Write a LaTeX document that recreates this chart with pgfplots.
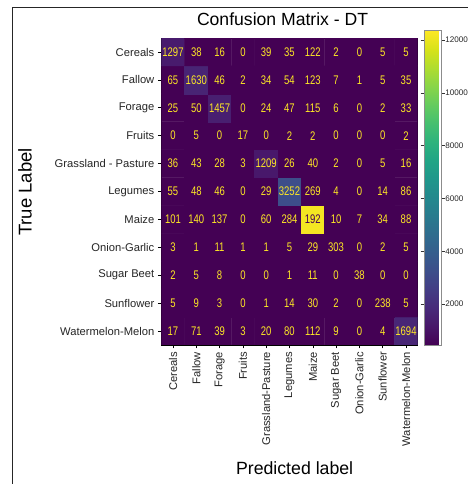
\documentclass[border=0pt]{standalone}
\usepackage{pgfplots}
\pgfplotsset{compat=1.18}
\usepackage{pgfplotstable}
\usepackage{fontspec}
\setmainfont{Liberation Sans}
\usepackage{graphicx}
\definecolor{vyel}{HTML}{FDE725}
\definecolor{vdark}{HTML}{440154}
% y = 0 is Watermelon-Melon (bottom row), y = 10 is Cereals (top row)
\pgfplotstableread{
x y c
0 0 17
1 0 71
2 0 39
3 0 3
4 0 20
5 0 80
6 0 112
7 0 9
8 0 0
9 0 4
10 0 1694
0 1 5
1 1 9
2 1 3
3 1 0
4 1 1
5 1 14
6 1 30
7 1 2
8 1 0
9 1 238
10 1 5
0 2 2
1 2 5
2 2 8
3 2 0
4 2 0
5 2 1
6 2 11
7 2 0
8 2 38
9 2 0
10 2 0
0 3 3
1 3 1
2 3 11
3 3 1
4 3 1
5 3 5
6 3 29
7 3 303
8 3 0
9 3 2
10 3 5
0 4 101
1 4 140
2 4 137
3 4 0
4 4 60
5 4 284
6 4 12192
7 4 10
8 4 7
9 4 34
10 4 88
0 5 55
1 5 48
2 5 46
3 5 0
4 5 29
5 5 3252
6 5 269
7 5 4
8 5 0
9 5 14
10 5 86
0 6 36
1 6 43
2 6 28
3 6 3
4 6 1209
5 6 26
6 6 40
7 6 2
8 6 0
9 6 5
10 6 16
0 7 0
1 7 5
2 7 0
3 7 17
4 7 0
5 7 2
6 7 2
7 7 0
8 7 0
9 7 0
10 7 2
0 8 25
1 8 50
2 8 1457
3 8 0
4 8 24
5 8 47
6 8 115
7 8 6
8 8 0
9 8 2
10 8 33
0 9 65
1 9 1630
2 9 46
3 9 2
4 9 34
5 9 54
6 9 123
7 9 7
8 9 1
9 9 5
10 9 35
0 10 1297
1 10 38
2 10 16
3 10 0
4 10 39
5 10 35
6 10 122
7 10 2
8 10 0
9 10 5
10 10 5
}\cm

\begin{document}
\begin{tikzpicture}
\useasboundingbox (0,0) rectangle (468bp,484bp);
\fill[white] (0,0) rectangle (468bp,484bp);
\draw[line width=1bp, black!85] (12bp,0) -- (12bp,476bp) -- (468bp,476bp);
\begin{axis}[
  at={(161.35bp,139.05bp)}, anchor=south west,
  scale only axis, width=256.3bp, height=306.9bp,
  xmin=-0.5, xmax=10.5, ymin=-0.5, ymax=10.5,
  enlargelimits=false,
  axis line style={black, line width=0.7bp},
  xtick={0,...,10}, ytick={0,...,10},
  xticklabels={Cereals,Fallow,Forage,Fruits,Grassland-Pasture,Legumes,Maize,Sugar Beet,Onion-Garlic,Sunflower,Watermelon-Melon},
  yticklabels={Watermelon-Melon,Sunflower,Sugar Beet,Onion-Garlic,Maize,Legumes,Grassland - Pasture,Fruits,Forage,Fallow,Cereals},
  xticklabel style={rotate=90, anchor=east, font=\fontsize{11.2bp}{13bp}\selectfont, text=black!85},
  yticklabel style={font=\fontsize{11.2bp}{13bp}\selectfont, text=black!85},
  xtick pos=bottom, ytick pos=left,
  tick align=outside, major tick length=3.5bp,
  tick style={black, line width=0.6bp},
  title={Confusion Matrix - DT},
  title style={at={(0.473,1.023)}, anchor=base, font=\fontsize{17.6bp}{20bp}\selectfont},
  xlabel={Predicted label},
  xlabel style={at={(0.52,-0.4205)}, anchor=base, font=\fontsize{17.7bp}{20bp}\selectfont},
  ylabel={True Label},
  ylabel style={at={(-0.532,0.498)}, anchor=center, rotate=0, font=\fontsize{18.5bp}{21bp}\selectfont},
  colormap/viridis,
  point meta min=450, point meta max=12360,
  colorbar,
  colorbar style={
    at={(parent axis.north east)}, anchor=north west,
    xshift=-2bp, yshift=7.5bp,
    width=17bp, height=314.5bp,
    ytick={2000,4000,...,12000},
    scaled y ticks=false,
    yticklabel style={font=\fontsize{8.1bp}{10bp}\selectfont, text=black!85, inner sep=0.6bp,
      /pgf/number format/1000 sep={}, /pgf/number format/assume math mode=true},
    major tick length=3.5bp, tick align=outside,
    tick style={black!80, line width=0.6bp},
    axis line style={black!45, line width=0.6bp},
  },
]
\addplot[matrix plot*, mesh/cols=11, point meta=explicit] table[x=x, y=y, meta=c] {\cm};
\addplot[only marks, mark=none, point meta=explicit symbolic,
  nodes near coords={\scalebox{0.76}[1]{\pgfplotspointmeta}},
  nodes near coords align={center},
  every node near coord/.append style={text=vyel, anchor=center, inner sep=0pt,
    font=\fontsize{12.5bp}{14bp}\selectfont},
  skip coords between index={50}{51}] table[x=x, y=y, meta=c] {\cm};
\addplot[only marks, mark=none, point meta=explicit symbolic,
  nodes near coords={\scalebox{0.76}[1]{\pgfplotspointmeta}},
  nodes near coords align={center},
  every node near coord/.append style={text=vdark, anchor=center, inner sep=0pt,
    font=\fontsize{12.5bp}{14bp}\selectfont}] coordinates {(6,4) [192]};
\end{axis}
\end{tikzpicture}
\end{document}
